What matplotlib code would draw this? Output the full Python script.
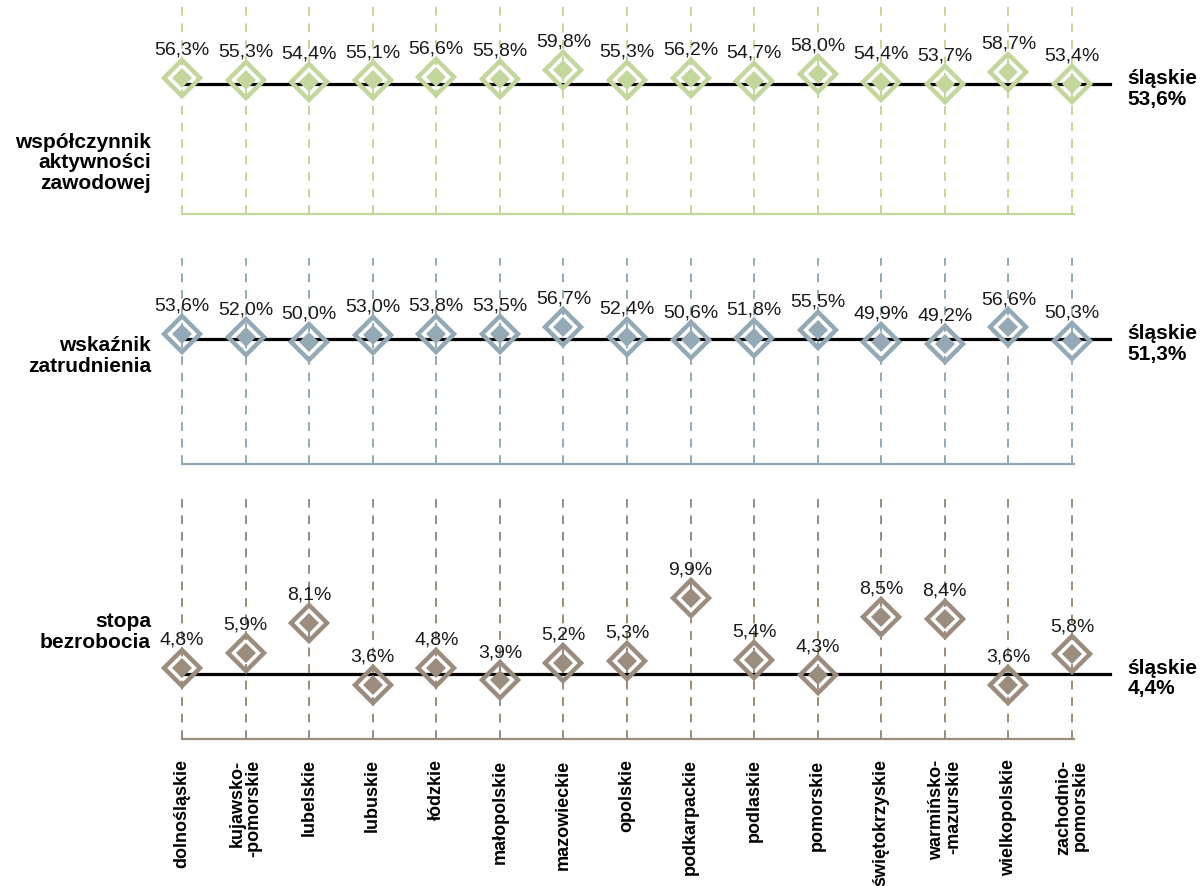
import matplotlib
matplotlib.use("Agg")
import matplotlib.pyplot as plt
import numpy as np

plt.rcParams['font.family'] = ['Liberation Sans', 'DejaVu Sans']

# region names (bottom labels)
regions = ['dolnośląskie', 'kujawsko-\n-pomorskie', 'lubelskie', 'lubuskie', 'łódzkie',
           'małopolskie', 'mazowieckie', 'opolskie', 'podkarpackie', 'podlaskie',
           'pomorskie', 'świętokrzyskie', 'warmińsko-\n-mazurskie', 'wielkopolskie',
           'zachodnio-\npomorskie']

# values per region
activity = [56.3, 55.3, 54.4, 55.1, 56.6, 55.8, 59.8, 55.3, 56.2, 54.7, 58.0, 54.4, 53.7, 58.7, 53.4]
employment = [53.6, 52.0, 50.0, 53.0, 53.8, 53.5, 56.7, 52.4, 50.6, 51.8, 55.5, 49.9, 49.2, 56.6, 50.3]
unemployment = [4.8, 5.9, 8.1, 3.6, 4.8, 3.9, 5.2, 5.3, 9.9, 5.4, 4.3, 8.5, 8.4, 3.6, 5.8]

# reference value for śląskie
silesia = [53.6, 51.3, 4.4]

panel_titles = ['współczynnik\naktywności\nzawodowej', 'wskaźnik\nzatrudnienia', 'stopa\nbezrobocia']
colors = ['#c3d69b', '#93aab6', '#9b8c7d']


def fmt(v):
    return f"{v:.1f}%".replace('.', ',')


W, H = 1203, 887
fig = plt.figure(figsize=(W / 100, H / 100), dpi=100)

x = np.arange(len(regions))
left_px, right_px = 150.2, 1103.8

# (top px, bottom px, ylim) per panel
layout = [
    (3, 215, (-3.7, 89.6)),
    (259, 465, (-6.3, 88.6)),
    (500, 740, (-0.36, 17.1)),
]

series = [activity, employment, unemployment]
axes = []
for vals, ref, title, col, (top, bottom, ylim) in zip(series, silesia, panel_titles, colors, layout):
    ax = fig.add_axes([left_px / W, 1 - bottom / H, (right_px - left_px) / W, (bottom - top) / H])
    ax.set_xlim(-0.5, 14.5)
    ax.set_ylim(*ylim)
    ax.patch.set_visible(False)
    for s in ax.spines.values():
        s.set_visible(False)
    ax.set_xticks([])
    ax.set_yticks([])

    # dashed guides and bottom baseline
    for xi in x:
        ax.axvline(xi, color=col, lw=1.4, ls=(0, (4.5, 4)), zorder=1)
    ax.plot([x[0], x[-1] + 0.03], [ylim[0], ylim[0]], color=col, lw=1.6, clip_on=False, zorder=1)

    # śląskie reference line
    ax.plot([x[0], 14.6], [ref, ref], color='black', lw=2.3, clip_on=False, zorder=2)

    # double diamond markers
    ax.plot(x, vals, 'D', ms=18.5, mfc='none', mec=col, mew=3.2, zorder=3, clip_on=False)
    ax.plot(x, vals, 'D', ms=10, mfc=col, mec=col, mew=0, zorder=4, clip_on=False)

    for xi, v in zip(x, vals):
        ax.annotate(fmt(v), (xi, v), xytext=(0, 17.5), textcoords='offset points',
                    ha='center', va='baseline', fontsize=14, color='#1a1a1a')

    ax.annotate('śląskie\n' + fmt(ref), (14.5, ref), xycoords='data',
                xytext=(17, -3), textcoords='offset points', ha='left', va='center',
                fontsize=15, fontweight='bold', linespacing=1.1, annotation_clip=False)
    axes.append(ax)

# panel titles on the left
title_y = [163, 356, 632]
for t, yy in zip(panel_titles, title_y):
    fig.text(151 / W, 1 - yy / H, t, ha='right', va='center', fontsize=15,
             fontweight='bold', linespacing=1.08, multialignment='right')

# region labels below bottom panel
ax3 = axes[-1]
for xi, name in zip(x, regions):
    ax3.annotate(name, (xi, 0), xycoords=('data', 'axes fraction'), xytext=(0, -14),
                 textcoords='offset points', ha='center', va='top', rotation=90,
                 fontsize=13, fontweight='bold', multialignment='right',
                 linespacing=1.0, annotation_clip=False)

fig.savefig('out.png', dpi=100)
